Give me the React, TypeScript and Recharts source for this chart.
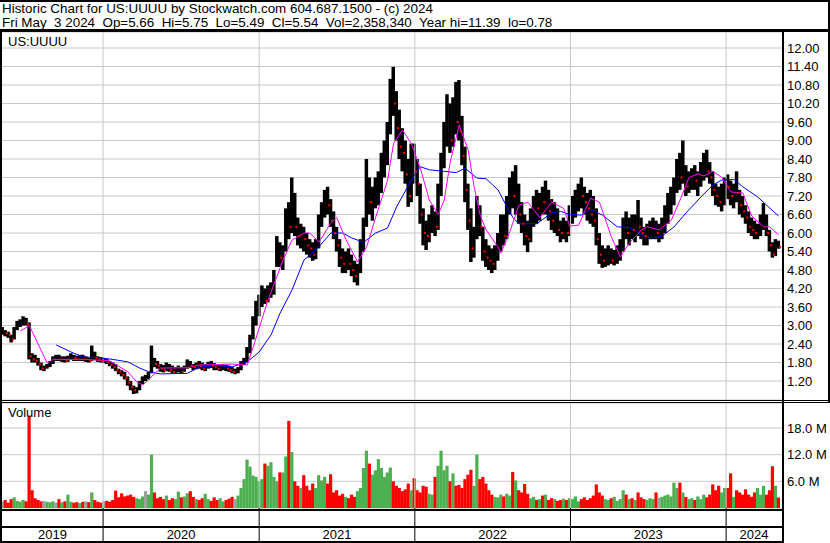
import React from 'react';
import { ComposedChart, Bar, Line, Scatter, XAxis, YAxis, CartesianGrid, ReferenceLine } from 'recharts';

// ---------- data (weekly, first week ending 2019-05-10) ----------
const FIRST_WEEK = Date.UTC(2019, 4, 10);
const DAY_MS = 86400000;

const HIGHS = [
  2.95, 2.85, 2.80, 2.70, 2.95, 3.15, 3.20, 3.30, 3.25, 3.10,
  2.10, 2.05, 1.95, 1.80, 1.70, 1.75, 1.85, 2.00, 2.05, 2.05,
  2.00, 2.00, 2.02, 2.10, 2.05, 2.02, 2.05, 2.05, 2.00, 1.95,
  2.35, 2.15, 2.00, 1.98, 1.95, 1.92, 1.85, 1.80, 1.75, 1.60,
  1.55, 1.50, 1.35, 1.20, 1.05, 1.00, 1.20, 1.35, 1.40, 1.50,
  2.35, 1.95, 1.85, 1.75, 1.72, 1.80, 1.75, 1.70, 1.65, 1.70,
  1.65, 1.70, 1.90, 1.85, 1.75, 1.80, 1.85, 1.80, 1.75, 1.82,
  1.85, 1.78, 1.75, 1.72, 1.75, 1.72, 1.70, 1.65, 1.60, 1.65,
  1.85, 1.95, 2.30, 2.70, 3.30, 3.80, 4.00, 4.30, 4.20, 4.30,
  4.40, 4.80, 5.90, 5.70, 5.60, 6.80, 7.00, 7.80, 7.30, 6.50,
  6.30, 6.20, 6.00, 5.80, 5.70, 5.80, 6.60, 7.00, 7.40, 7.50,
  7.10, 6.70, 6.20, 5.80, 5.50, 5.40, 5.50, 5.30, 5.10, 5.00,
  5.80, 6.50, 8.40, 7.80, 7.50, 7.80, 8.00, 8.60, 9.00, 9.60,
  11.00, 11.39, 10.60, 10.00, 9.40, 9.00, 8.40, 8.90, 8.90, 8.40,
  7.60, 6.80, 6.40, 6.60, 6.90, 6.70, 7.60, 8.60, 9.60, 10.50,
  10.20, 10.40, 10.90, 10.96, 9.80, 8.80, 7.60, 6.80, 6.20, 7.20,
  6.90, 6.20, 5.80, 5.60, 5.50, 5.60, 6.00, 6.60, 6.60, 7.20,
  7.80, 8.00, 8.20, 7.60, 7.00, 6.60, 6.40, 6.80, 7.20, 7.40,
  7.30, 7.50, 7.70, 7.40, 7.10, 7.00, 6.80, 6.40, 6.50, 6.40,
  6.90, 7.20, 7.40, 7.60, 7.80, 7.50, 7.30, 7.40, 7.20, 6.80,
  6.00, 5.60, 5.50, 5.60, 5.50, 5.45, 5.60, 5.80, 6.50, 6.70,
  6.50, 6.60, 6.60, 7.07, 6.50, 6.20, 6.30, 6.40, 6.50, 6.40,
  6.30, 6.50, 6.90, 7.30, 7.50, 7.80, 8.40, 8.60, 9.00, 8.20,
  8.00, 8.10, 8.20, 8.00, 8.30, 8.60, 8.70, 8.30, 8.00, 7.60,
  7.50, 7.60, 7.80, 7.90, 7.70, 7.60, 8.00, 7.40, 7.20, 6.90,
  6.70, 6.50, 6.40, 6.30, 6.60, 6.97, 6.60, 6.10, 5.70, 5.80,
  5.75,
];

const LOWS = [
  2.70, 2.65, 2.60, 2.45, 2.55, 2.85, 2.95, 3.00, 3.00, 1.90,
  1.80, 1.80, 1.70, 1.55, 1.52, 1.60, 1.65, 1.75, 1.85, 1.85,
  1.82, 1.80, 1.82, 1.88, 1.85, 1.85, 1.85, 1.85, 1.82, 1.80,
  1.85, 1.88, 1.82, 1.80, 1.78, 1.75, 1.68, 1.60, 1.52, 1.42,
  1.35, 1.25, 1.05, 0.90, 0.78, 0.80, 0.90, 1.10, 1.20, 1.25,
  1.45, 1.65, 1.60, 1.50, 1.48, 1.52, 1.50, 1.45, 1.45, 1.48,
  1.45, 1.50, 1.60, 1.62, 1.55, 1.58, 1.60, 1.55, 1.52, 1.60,
  1.62, 1.55, 1.55, 1.52, 1.55, 1.52, 1.50, 1.45, 1.42, 1.45,
  1.55, 1.72, 1.80, 2.10, 2.55, 3.00, 3.30, 3.60, 3.70, 3.75,
  3.90, 4.00, 4.90, 4.90, 4.80, 5.40, 5.80, 6.00, 5.90, 5.60,
  5.50, 5.40, 5.30, 5.20, 5.10, 5.15, 5.50, 6.20, 6.50, 6.60,
  6.20, 5.80, 5.40, 4.90, 4.70, 4.70, 4.80, 4.60, 4.40, 4.30,
  4.70, 5.40, 6.20, 6.60, 6.40, 6.80, 6.90, 7.30, 7.80, 8.20,
  9.20, 9.80, 9.00, 8.40, 8.00, 7.60, 6.85, 7.00, 7.60, 7.20,
  6.30, 5.60, 5.45, 5.70, 6.00, 5.90, 6.10, 7.20, 8.10, 8.80,
  8.60, 8.80, 9.20, 9.00, 8.20, 7.00, 6.10, 5.06, 5.20, 5.80,
  5.90, 5.10, 4.90, 4.80, 4.70, 4.80, 5.10, 5.40, 5.60, 5.80,
  6.60, 6.80, 6.60, 6.30, 6.00, 5.60, 5.38, 5.70, 6.20, 6.30,
  6.40, 6.60, 6.60, 6.40, 6.10, 6.00, 5.90, 5.70, 5.80, 5.70,
  5.90, 6.30, 6.50, 6.70, 6.80, 6.60, 6.40, 6.30, 6.20, 5.60,
  5.00, 4.87, 4.90, 4.95, 5.00, 4.95, 5.00, 5.10, 5.40, 5.80,
  5.60, 5.80, 5.70, 5.90, 5.80, 5.60, 5.60, 5.80, 5.80, 5.80,
  5.70, 5.80, 6.00, 6.30, 6.60, 6.90, 7.30, 7.40, 7.60, 7.20,
  7.30, 7.40, 7.40, 7.20, 7.50, 7.70, 7.80, 7.60, 7.20, 6.90,
  6.85, 6.70, 6.90, 7.10, 6.90, 6.80, 7.00, 6.60, 6.50, 6.30,
  6.00, 5.90, 5.80, 5.80, 5.90, 6.10, 5.90, 5.40, 5.20, 5.25,
  5.49,
];

const CLOSES = [
  2.80, 2.75, 2.70, 2.55, 2.90, 3.05, 3.10, 3.15, 3.05, 2.00,
  1.90, 1.85, 1.75, 1.60, 1.60, 1.70, 1.80, 1.95, 1.95, 1.90,
  1.95, 1.85, 1.95, 2.00, 1.95, 1.90, 1.95, 1.90, 1.90, 1.85,
  2.10, 1.95, 1.90, 1.85, 1.85, 1.80, 1.72, 1.65, 1.55, 1.50,
  1.40, 1.30, 1.15, 1.00, 0.90, 0.95, 1.15, 1.30, 1.30, 1.45,
  1.90, 1.75, 1.70, 1.60, 1.55, 1.70, 1.55, 1.50, 1.55, 1.60,
  1.50, 1.65, 1.80, 1.70, 1.65, 1.75, 1.70, 1.60, 1.70, 1.75,
  1.70, 1.65, 1.60, 1.62, 1.65, 1.60, 1.55, 1.50, 1.50, 1.60,
  1.80, 1.85, 2.20, 2.60, 3.10, 3.60, 3.70, 3.90, 3.80, 4.10,
  4.20, 4.60, 5.50, 5.20, 5.40, 6.50, 6.20, 7.00, 6.20, 5.90,
  6.00, 5.80, 5.60, 5.50, 5.30, 5.60, 6.40, 6.80, 7.00, 6.90,
  6.40, 6.00, 5.60, 5.20, 5.00, 5.10, 5.00, 4.80, 4.60, 4.70,
  5.60, 6.20, 7.60, 7.00, 7.20, 7.40, 7.60, 8.40, 8.60, 9.30,
  10.60, 10.20, 9.40, 8.80, 8.60, 7.90, 7.20, 8.30, 8.00, 7.60,
  6.60, 6.00, 5.90, 6.30, 6.50, 6.20, 7.30, 8.30, 9.20, 9.80,
  9.00, 10.00, 9.60, 9.30, 8.50, 7.40, 6.40, 5.50, 5.80, 6.80,
  6.20, 5.40, 5.20, 5.10, 5.00, 5.30, 5.70, 6.20, 5.90, 6.80,
  7.40, 7.20, 7.60, 6.60, 6.30, 5.90, 5.80, 6.50, 6.90, 6.80,
  7.10, 7.00, 7.20, 6.70, 6.40, 6.60, 6.10, 6.00, 6.20, 6.00,
  6.70, 6.90, 7.10, 7.30, 7.20, 7.00, 6.80, 6.60, 6.40, 5.80,
  5.30, 5.10, 5.20, 5.30, 5.10, 5.20, 5.40, 5.50, 6.20, 6.00,
  6.20, 6.10, 6.30, 6.20, 6.00, 5.90, 6.00, 6.10, 6.20, 6.00,
  6.00, 6.30, 6.60, 7.00, 7.10, 7.50, 8.20, 7.80, 8.00, 7.50,
  7.70, 7.90, 7.70, 7.80, 8.10, 8.20, 8.00, 7.80, 7.40, 7.20,
  7.00, 7.30, 7.60, 7.50, 7.20, 7.40, 7.30, 6.90, 6.70, 6.50,
  6.20, 6.10, 6.00, 6.10, 6.30, 6.50, 6.00, 5.60, 5.30, 5.60,
  5.54,
];

// representative daily volume for each week, in millions
const VOLUMES = [
  1.5, 1.8, 1.2, 2.0, 2.4, 1.6, 1.4, 1.8, 1.5, 20.8,
  4.0, 2.2, 1.8, 1.5, 1.6, 1.4, 1.3, 1.5, 1.2, 2.0,
  1.3, 1.5, 3.0, 1.4, 1.2, 1.3, 1.1, 1.4, 1.5, 1.3,
  3.5, 1.8, 1.4, 1.2, 1.5, 1.6, 1.4, 1.8, 3.9, 2.4,
  3.3, 2.6, 2.8, 3.0, 2.5, 2.2, 2.0, 2.6, 3.8, 3.0,
  12.0, 3.5, 2.2, 2.5, 2.0, 2.8, 1.8, 2.2, 2.0, 3.7,
  2.4, 2.6, 3.3, 3.8, 2.5, 2.0, 1.8, 2.2, 3.2, 2.0,
  1.6, 2.4, 1.8, 2.2, 1.5, 1.8, 2.1, 2.5, 2.0, 2.8,
  4.5, 6.5, 10.9, 9.3, 7.3, 7.0, 6.0, 6.5, 10.0, 9.5,
  10.3, 7.0, 6.0, 8.0, 8.0, 11.6, 19.6, 12.6, 6.0, 5.0,
  4.5, 7.4, 5.0, 4.0, 5.5, 4.5, 7.4, 6.2, 7.0, 5.5,
  7.6, 3.5, 4.0, 2.8, 3.2, 2.5, 2.2, 3.0, 2.5, 3.8,
  4.5, 9.0, 12.9, 10.0, 7.5, 8.5, 11.0, 9.0, 7.0, 8.0,
  9.1, 6.0, 5.0, 4.5, 3.8, 4.2, 5.5, 4.0, 6.7, 4.0,
  3.5, 5.0, 4.8, 3.2, 3.0, 7.0, 9.5, 12.9, 8.5, 9.5,
  6.0, 7.8, 5.0, 5.2, 4.5, 6.5, 7.5, 8.6, 5.0, 12.0,
  6.5, 7.0, 5.5, 4.0, 3.0, 2.5, 2.4, 3.0, 2.6, 3.2,
  2.8, 8.1, 6.2, 4.0, 3.5, 5.4, 3.2, 2.2, 2.5, 1.8,
  2.0, 2.8, 3.0, 1.8, 2.2, 2.0, 1.6, 1.8, 2.1, 1.8,
  2.2, 2.0, 2.6, 1.5, 2.0, 2.4, 1.8, 2.2, 2.8, 5.3,
  3.5, 2.8, 2.0, 1.8, 2.2, 2.5, 1.6, 2.0, 4.0, 3.0,
  2.0, 2.2, 1.8, 3.5, 2.4, 2.0, 1.8, 2.2, 2.0, 3.5,
  2.3, 2.5, 2.8, 3.0, 2.6, 5.7, 4.5, 5.7, 3.5, 2.5,
  2.0, 2.2, 1.8, 2.6, 2.0, 3.0, 2.4, 3.0, 5.3, 4.0,
  5.0, 3.5, 4.5, 4.5, 7.8, 2.5, 4.0, 3.5, 3.0, 4.2,
  3.0, 2.5, 3.5, 4.5, 3.0, 5.0, 3.0, 4.0, 9.4, 5.0,
  2.36,
];

// moving averages: [week number, value]
const MA_SHORT = [
  [6, 2.82], [9, 3.0], [15, 1.78], [17, 1.9], [28, 1.9], [36, 1.85], [42, 1.5], [45, 1.17],
  [47, 1.07], [53, 1.62], [62, 1.63], [66, 1.72], [77, 1.75], [82, 1.72], [84, 2.3], [86, 2.92],
  [89, 3.83], [94, 5.12], [97, 5.77], [101, 6.0], [103, 6.0], [106, 5.7], [110, 6.32], [112, 6.5],
  [115, 5.8], [119, 5.06], [122, 5.55], [125, 6.5], [129, 7.7], [131, 8.9], [134, 9.34], [137, 8.9],
  [140, 8.1], [143, 7.07], [146, 6.6], [148, 7.07], [150, 8.3], [153, 9.5], [156, 8.7], [158, 7.5],
  [160, 6.6], [162, 6.1], [166, 5.55], [167, 5.35], [170, 6.05], [173, 6.9], [176, 7.0], [178, 6.75],
  [180, 6.5], [184, 7.0], [188, 6.8], [190, 6.23], [193, 6.25], [197, 7.13], [200, 7.0], [204, 5.87],
  [207, 5.22], [210, 5.67], [214, 6.1], [216, 6.2], [220, 6.1], [224, 6.4], [227, 7.07], [230, 7.8],
  [233, 7.92], [235, 7.85], [238, 8.0], [241, 7.8], [244, 7.33], [248, 7.3], [251, 6.55], [255, 6.2],
  [257, 6.2], [260, 5.94],
];

const MA_LONG = [
  [18, 2.37], [23, 2.14], [27, 1.98], [33, 1.95], [37, 1.9], [42, 1.82], [46, 1.62], [49, 1.5],
  [53, 1.43], [62, 1.45], [66, 1.66], [72, 1.7], [77, 1.66], [82, 1.82], [86, 2.14], [90, 2.7],
  [93, 3.4], [97, 4.15], [101, 5.12], [106, 5.55], [110, 6.0], [114, 6.0], [117, 5.84], [121, 5.7],
  [125, 6.0], [129, 6.16], [132, 6.84], [137, 7.72], [140, 8.15], [143, 8.05], [148, 8.0], [152, 7.96],
  [155, 8.1], [159, 7.78], [162, 7.76], [166, 7.4], [169, 6.85], [171, 6.5], [173, 6.3], [179, 6.3],
  [184, 6.65], [187, 6.7], [190, 6.6], [194, 6.58], [197, 6.77], [201, 6.58], [206, 6.2], [210, 6.18],
  [215, 5.9], [218, 5.84], [221, 5.9], [225, 6.2], [229, 6.65], [234, 7.17], [238, 7.56], [241, 7.72],
  [245, 7.74], [248, 7.5], [253, 7.17], [256, 6.9], [260, 6.55],
];

const PRICE_TICKS = [1.2, 1.8, 2.4, 3.0, 3.6, 4.2, 4.8, 5.4, 6.0, 6.6, 7.2, 7.8, 8.4, 9.0, 9.6, 10.2, 10.8, 11.4, 12.0];
const VOL_TICKS = [6, 12, 18];
const YEARS = [2019, 2020, 2021, 2022, 2023, 2024];

const TITLE_1 = 'Historic Chart for US:UUUU by Stockwatch.com 604.687.1500 - (c) 2024';
const TITLE_2 = 'Fri May  3 2024  Op=5.66  Hi=5.75  Lo=5.49  Cl=5.54  Vol=2,358,340  Year hi=11.39  lo=0.78';
const SYMBOL = 'US:UUUU';

// ---------- derived tables ----------
const X_DOMAIN: [number, number] = [-1, 1828];
const dayOf = (y: number) => (Date.UTC(y, 0, 1) - FIRST_WEEK) / DAY_MS;
const BOUNDARIES = YEARS.slice(1).map(dayOf);
const LABEL_POS = YEARS.map((y) => {
  const a = Math.max(X_DOMAIN[0], dayOf(y));
  const b = Math.min(X_DOMAIN[1], dayOf(y + 1));
  return (a + b) / 2;
});
const X_TICKS = [...BOUNDARIES, ...LABEL_POS].sort((a, b) => a - b);

const weeks = CLOSES.map((c, i) => {
  const prev = i > 0 ? CLOSES[i - 1] : c;
  return {
    t: i * 7,
    range: [LOWS[i], HIGHS[i]],
    high: HIGHS[i],
    low: LOWS[i],
    close: c,
    vol: VOLUMES[i],
    down: c < prev,
    color: c > prev ? '#4caf50' : c < prev ? '#ff0000' : '#a0a0a0',
  };
});
const downCloses = weeks.filter((w) => w.down).map((w) => ({ t: w.t, close: w.close }));
const maShort = MA_SHORT.map(([w, v]) => ({ t: w * 7, v }));
const maLong = MA_LONG.map(([w, v]) => ({ t: w * 7, v }));

const GRID = '#c8c8c8';
const FONT = '"Liberation Sans", Arial, sans-serif';

const OhlcShape = (props: any) => {
  const { x, y, width, height, payload } = props;
  if (x == null || y == null || !payload) return null;
  const h = Math.max(height, 1);
  return <rect x={x - 0.5} y={y} width={width + 0.8} height={h} fill="#000" />;
};

const CloseDot = (props: any) => {
  const { cx, cy } = props;
  if (cx == null || cy == null) return null;
  return <rect x={cx + 0.5} y={cy - 1} width={2} height={2} fill="#ff0000" />;
};

const VolShape = (props: any) => {
  const { x, y, width, height, payload } = props;
  if (x == null || y == null || !payload) return null;
  return <rect x={x - 0.3} y={y} width={width + 0.6} height={Math.max(height, 0)} fill={payload.color} />;
};

const PLOT_BOTTOM = 105;
const VOL_CHART_H = 140;

const YearTick = (props: any) => {
  const { x, payload } = props;
  const v = payload.value;
  const bi = BOUNDARIES.indexOf(v);
  if (bi >= 0) {
    return <line x1={x} x2={x} y1={PLOT_BOTTOM} y2={VOL_CHART_H} stroke="#000" strokeWidth={1} />;
  }
  const li = LABEL_POS.indexOf(v);
  return (
    <text x={x} y={VOL_CHART_H - 4} textAnchor="middle" fontSize={13} fill="#000">
      {li >= 0 ? String(YEARS[li]) : ''}
    </text>
  );
};

const line = (style: React.CSSProperties) => (
  <div style={{ position: 'absolute', background: '#000', ...style }} />
);

export default function App() {
  return (
    <div
      style={{
        position: 'fixed',
        left: 0,
        top: 0,
        width: 830,
        height: 543,
        background: '#fff',
        fontFamily: FONT,
        color: '#000',
        overflow: 'hidden',
      }}
    >
      <div style={{ position: 'absolute', left: 2, top: 1, fontSize: 13.4, lineHeight: '15px', whiteSpace: 'pre' }}>
        {TITLE_1}
      </div>
      <div style={{ position: 'absolute', left: 2, top: 15, fontSize: 13.4, lineHeight: '15px', whiteSpace: 'pre' }}>
        {TITLE_2}
      </div>

      <div style={{ position: 'absolute', left: 0, top: 32 }}>
        <ComposedChart width={830} height={368} data={weeks} margin={{ top: 0, right: 0, bottom: 0, left: 2 }}>
          <CartesianGrid stroke={GRID} vertical={false} />
          <XAxis type="number" dataKey="t" domain={X_DOMAIN} allowDataOverflow hide />
          <YAxis
            orientation="right"
            type="number"
            domain={[0.584, 12.519]}
            allowDataOverflow
            ticks={PRICE_TICKS}
            interval={0}
            width={48}
            axisLine={false}
            tickLine={false}
            tickSize={0}
            tickMargin={5}
            tick={{ fontSize: 13, fill: '#000' }}
            tickFormatter={(v: number) => v.toFixed(2)}
          />
          {BOUNDARIES.map((b) => (
            <ReferenceLine key={b} x={b} stroke={GRID} />
          ))}
          <Bar dataKey="range" barSize={3} shape={OhlcShape} isAnimationActive={false} />
          <Scatter data={downCloses} dataKey="close" shape={CloseDot} isAnimationActive={false} />
          <Line data={maLong} dataKey="v" type="linear" stroke="#0000ff" strokeWidth={1} dot={false} isAnimationActive={false} />
          <Line data={maShort} dataKey="v" type="linear" stroke="#ff00ff" strokeWidth={1} dot={false} isAnimationActive={false} />
        </ComposedChart>
      </div>

      <div style={{ position: 'absolute', left: 0, top: 403 }}>
        <ComposedChart width={830} height={VOL_CHART_H} data={weeks} margin={{ top: 0, right: 0, bottom: 0, left: 2 }}>
          <CartesianGrid stroke={GRID} vertical={false} />
          <XAxis
            type="number"
            dataKey="t"
            domain={X_DOMAIN}
            allowDataOverflow
            ticks={X_TICKS}
            interval={0}
            height={VOL_CHART_H - PLOT_BOTTOM}
            axisLine={false}
            tickLine={false}
            tick={(p: any) => <YearTick {...p} />}
          />
          <YAxis
            orientation="right"
            type="number"
            domain={[0, 23.63]}
            allowDataOverflow
            ticks={VOL_TICKS}
            interval={0}
            width={48}
            axisLine={false}
            tickLine={false}
            tickSize={0}
            tickMargin={5}
            tick={{ fontSize: 13, fill: '#000' }}
            tickFormatter={(v: number) => `${v.toFixed(1)} M`}
          />
          {BOUNDARIES.map((b) => (
            <ReferenceLine key={b} x={b} stroke={GRID} />
          ))}
          <Bar dataKey="vol" barSize={2.6} shape={VolShape} isAnimationActive={false} />
        </ComposedChart>
      </div>

      <div style={{ position: 'absolute', left: 8, top: 34, fontSize: 13, lineHeight: '15px' }}>{SYMBOL}</div>
      <div style={{ position: 'absolute', left: 8, top: 405, fontSize: 13, lineHeight: '15px' }}>Volume</div>

      {line({ left: 0, top: 0, width: 830, height: 2 })}
      {line({ left: 0, top: 29, width: 830, height: 3 })}
      {line({ left: 0, top: 29, width: 2, height: 514 })}
      {line({ left: 782, top: 29, width: 2, height: 514 })}
      {line({ left: 828, top: 0, width: 2, height: 403 })}
      {line({ left: 0, top: 400, width: 830, height: 1 })}
      {line({ left: 0, top: 402, width: 830, height: 1 })}
      {line({ left: 0, top: 509, width: 784, height: 2 })}
      {line({ left: 0, top: 526, width: 784, height: 2 })}
      {line({ left: 0, top: 541, width: 784, height: 2 })}
    </div>
  );
}
